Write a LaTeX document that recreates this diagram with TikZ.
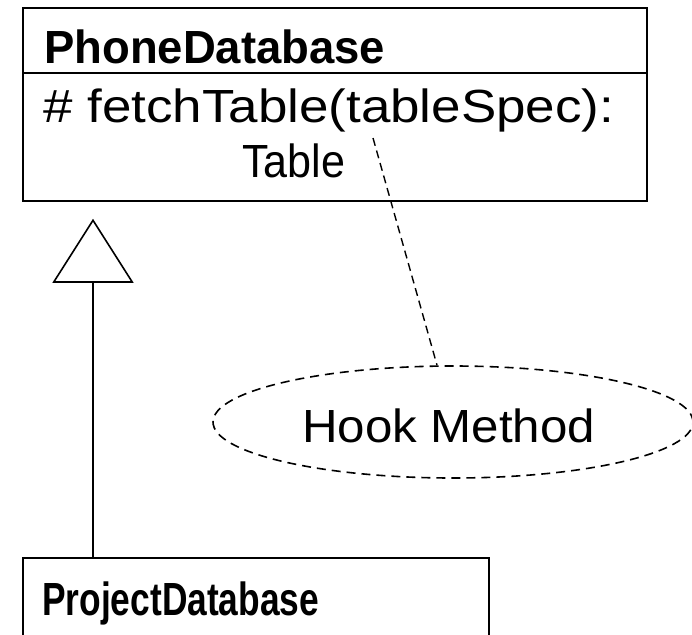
\documentclass[tikz,border=0pt]{standalone}
\usepackage{fontspec}
\setmainfont{Liberation Sans}
\usepackage{graphicx}
\usetikzlibrary{arrows.meta,shapes.geometric}
% set a text to a given width, keeping its height
\newcommand\fitto[2]{\resizebox{#1}{\height}{#2}}
\begin{document}
\begin{tikzpicture}[x=1pt,y=-1pt,
  classbox/.style={draw,line width=1.8pt,rectangle,inner sep=0pt,anchor=north west},
  label/.style={inner sep=0pt,anchor=base west,font=\fontsize{46.5}{54}\selectfont},
  inherit/.style={line width=1.6pt,-{Triangle[open,length=64pt,width=81pt,line width=1.6pt]}},
  notelink/.style={line width=1.4pt,dash pattern=on 8pt off 5pt},
  note/.style={draw,ellipse,line width=1.6pt,dash pattern=on 9pt off 6pt,inner sep=0pt}]
  \useasboundingbox (0,0) rectangle (692,634);
  \clip (0,0) rectangle (692,634);
  % superclass
  \node[classbox,minimum width=624pt,minimum height=193pt] (phone) at (22,7) {};
  \draw[line width=1.8pt] (22,73) coordinate (sepL) -- (646,73) coordinate (sepR);
  \node[label] (phonename) at (44,63) {\fitto{341pt}{\bfseries PhoneDatabase}};
  \node[label] (op1) at (43,122) {\fitto{571pt}{\#~fetchTable(tableSpec):}};
  \node[label] (op2) at (242,177) {\fitto{103pt}{Table}};
  % subclass
  \node[classbox,minimum width=466pt,minimum height=120pt] (project) at (22,557) {};
  \node[label] (projectname) at (42,615) {\fitto{277pt}{\bfseries ProjectDatabase}};
  % generalization
  \draw[inherit] ([xshift=71pt]project.north west) -- ([xshift=71pt,yshift=-17pt]phone.south west);
  % note on the hook method
  \node[note,minimum width=480pt,minimum height=112pt] (hook) at (453,422) {};
  \node[label] (hooktext) at (302,442) {\fitto{293pt}{Hook Method}};
  \coordinate (hookref) at (373,138);
  \draw[notelink] (hookref) -- (hook);
\end{tikzpicture}
\end{document}
